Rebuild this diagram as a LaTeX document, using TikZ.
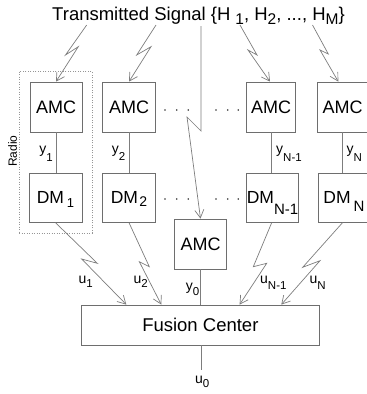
\documentclass[tikz,border=0pt]{standalone}
\usepackage{fontspec}
\setmainfont{Liberation Sans}
\usetikzlibrary{arrows.meta,fit}

% font size shortcut and a lowered subscript: drop, size, text
\newcommand\fs[1]{\fontsize{#1}{#1}\selectfont}
\newcommand\lsub[3]{\raisebox{-#1pt}[0pt][0pt]{\fs{#2}#3}}

\definecolor{edge}{RGB}{110,110,110}
\definecolor{wirec}{RGB}{125,125,125}
\definecolor{dotc}{RGB}{150,150,150}

\begin{document}
\begin{tikzpicture}[x=1pt,y=-1pt,
  box/.style={draw=edge, line width=0.8pt, inner sep=0pt, font=\fs{18}},
  wire/.style={draw=wirec, line width=0.7pt},
  bolt/.style={wire, -{Straight Barb[length=8pt,width=9pt]}},
  lbl/.style={inner sep=0pt, font=\fs{14}},
  radiobox/.style={draw=dotc, line width=0.7pt, dash pattern=on 1pt off 1.5pt},
  sdot/.style={fill=black!80},
]
\clip (0,0) rectangle (367,394);

% title
\node[inner sep=0pt, anchor=base, font=\fs{18.5}] (title) at (198.5,20)
  {Transmitted Signal \{H\hspace{5pt}\lsub{4}{15.5}{1}, H\lsub{4}{15.5}{2}, ..., H\lsub{4}{15.5}{M}\}};

% classifier boxes
\node[box, minimum width=52pt,   minimum height=50pt] (amc1) at (56,107)    {AMC};
\node[box, minimum width=53.4pt, minimum height=50pt] (amc2) at (129,107)   {AMC};
\node[box, minimum width=49pt,   minimum height=50pt] (amcA) at (271,107)   {AMC};
\node[box, minimum width=50.7pt, minimum height=50pt] (amcN) at (342.7,107) {AMC};
\node[box, minimum width=52.4pt, minimum height=50pt] (amc0) at (200.5,244) {AMC};

% decision makers
\node[box, minimum width=53pt,   minimum height=49pt, font=\fs{17.5}] (dm1) at (55.5,197.8)
  {\makebox[0pt][c]{DM\hspace{3pt}\lsub{3.3}{13}{1}}};
\node[box, minimum width=53.4pt, minimum height=49pt, font=\fs{17.5}] (dm2) at (129,197.8)
  {\makebox[0pt][c]{DM\hspace{1.5pt}\lsub{2.3}{14}{2}}};
\node[box, minimum width=51.6pt, minimum height=49pt, font=\fs{17.5}] (dmA) at (272.5,197.8)
  {\makebox[0pt][c]{DM\lsub{10.5}{15}{N-1}}};
\node[box, minimum width=51.6pt, minimum height=49pt, font=\fs{17.5}] (dmN) at (344,197.8)
  {\makebox[0pt][c]{DM\hspace{3pt}\lsub{8}{15}{N}}};

% fusion center
\node[box, minimum width=237.3pt, minimum height=40pt, font=\fs{18.5}] (fus) at (200.35,325) {Fusion Center};

% radio grouping
\node[radiobox, fit=(amc1)(dm1), inner xsep=9.5pt, inner ysep=10.3pt] (radio) {};
\node[lbl, font=\fs{12}, rotate=90] (radiolbl) at (12.5,151) {Radio};

% free ends of the signal bolts under the title
\coordinate (s1) at (86.7,25);
\coordinate (s2) at (156,25);
\coordinate (s0) at (201,26);
\coordinate (sA) at (240,25);
\coordinate (sN) at (312.5,25);

% received signal
\draw[bolt] (s1) -- (65.5,55) -- (78.3,46.7) -- (amc1.north);
\draw[bolt] (s2) -- (136.7,55) -- (151,46.7) -- (amc2.north);
\draw[bolt] (s0) -- (201,131) -- (187,117) -- (amc0.north);
\draw[bolt] (sA) -- (257,55) -- (248,50) -- ([xshift=-1pt]amcA.north);
\draw[bolt] (sN) -- (328.3,54) -- (320,50) -- ([xshift=-4.4pt]amcN.north);

% features to decision makers
\draw[wire] (amc1.south) -- (amc1.south |- dm1.north);
\draw[wire] (amc2.south) -- (amc2.south |- dm2.north);
\draw[wire] (amcA.south) -- (amcA.south |- dmA.north);
\draw[wire] (amcN.south) -- (amcN.south |- dmN.north);
\draw[wire] (amc0.south) -- (amc0.south |- fus.north);

% decisions to fusion center
\draw[bolt] (dm1.south) -- (97.3,263.3) -- (81.7,259) -- ([xshift=45pt]fus.north west);
\draw[bolt] (dm2.south) -- (149.3,266.7) -- (139.3,261.7) -- ([xshift=80pt]fus.north west);
\draw[bolt] ([xshift=-0.8pt]dmA.south) -- (253.3,266.7) -- (266.7,263.3) -- ([xshift=158.3pt]fus.north west);
\draw[bolt] ([xshift=-1.5pt]dmN.south) -- (302.7,267.3) -- (320,260.7) -- ([xshift=200pt]fus.north west);

% global decision
\coordinate (uend) at (201.7,370);
\draw[wire] (fus.south -| uend) -- (uend);

% signal labels
\node[lbl, anchor=base east] (ly1) at (53,153.5)    {y\lsub{8}{11.5}{1}};
\node[lbl, anchor=base east] (ly2) at (125.5,153.5) {y\lsub{6.5}{11.5}{2}};
\node[lbl, anchor=base west] (lyA) at (276,153.5)   {y\lsub{8}{11.5}{N-1}};
\node[lbl, anchor=base west] (lyN) at (346.5,153.5) {y\lsub{8}{11.5}{N}};
\node[lbl, anchor=base east] (ly0) at (199.5,290.6) {y\lsub{4.4}{11.5}{0}};
\node[lbl, anchor=base west] (lu1) at (78.3,283.3)  {u\lsub{4}{11.5}{1}};
\node[lbl, anchor=base west] (lu2) at (133.3,283.3) {u\lsub{4}{11.5}{2}};
\node[lbl, anchor=base west] (luA) at (260,283.3)   {u\lsub{6}{11.5}{N-1}};
\node[lbl, anchor=base west] (luN) at (309.3,283.3) {u\lsub{6}{11.5}{N}};
\node[lbl, anchor=base west] (lu0) at (195,383.3)   {u\lsub{4.4}{11.5}{0}};

% ellipsis dots between the radios
\foreach \yy in {110,199} {
  \foreach \xx in {165,176.7,188.3,216,227.7,238.3} {
    \fill[sdot] (\xx,\yy) circle (0.9pt);
  }
}
\end{tikzpicture}
\end{document}
